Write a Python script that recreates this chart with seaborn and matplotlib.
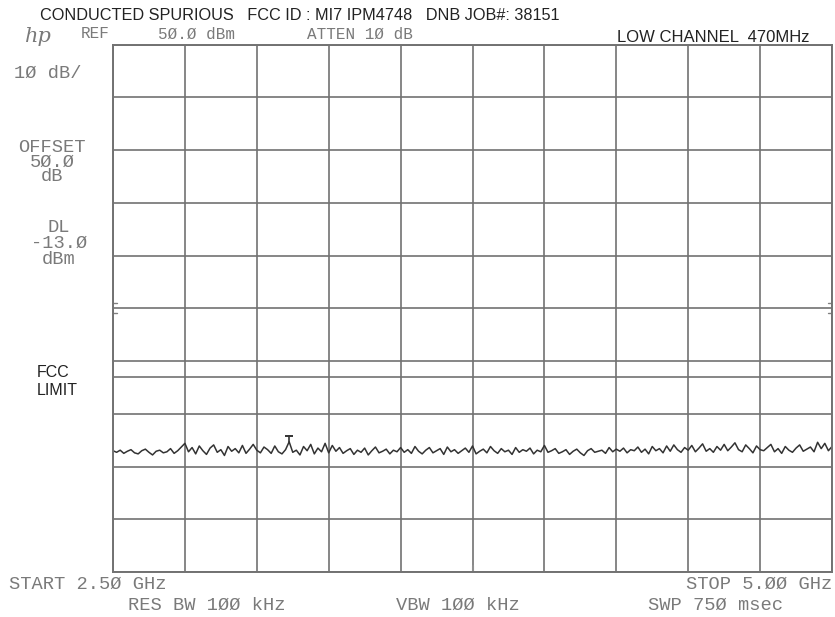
import numpy as np
import pandas as pd
import matplotlib
matplotlib.use("Agg")
import matplotlib.pyplot as plt
import seaborn as sns

# ---- data ----
start_ghz = 2.50
stop_ghz = 5.00
ref_level_dbm = 50.0
db_per_div = 10
fcc_limit_dbm = -13.0
marker_idx = 49
marker_top_dbm = -24.3

trace_dbm = [
    -27.0, -27.3, -26.9, -27.5, -27.1, -26.8, -27.4, -27.6, -27.0, -26.7,
    -27.3, -27.8, -27.1, -26.9, -27.4, -27.2, -26.6, -27.5, -27.0, -26.3,
    -25.6, -27.2, -26.4, -27.6, -26.1, -27.0, -27.7, -26.5, -25.9, -27.3,
    -26.8, -27.9, -26.2, -27.1, -26.6, -27.4, -26.0, -27.5, -26.7, -25.8,
    -26.9, -27.4, -26.3, -26.8, -27.5, -26.1, -27.2, -27.6, -26.8, -25.3,
    -27.3, -26.9, -27.8, -26.2, -27.0, -25.8, -27.6, -26.5, -27.2, -25.6,
    -27.4, -26.0, -27.1, -26.4, -27.5, -27.0, -26.6, -27.7, -26.9, -27.3,
    -26.5, -27.8, -27.0, -26.3, -27.4, -27.1, -26.7, -27.6, -26.9, -27.2,
    -26.4, -27.3, -26.8, -27.5, -26.2, -27.1, -27.6, -26.9, -26.4, -27.4,
    -27.0, -26.6, -27.7, -26.3, -27.2, -26.8, -27.5, -27.0, -26.5, -27.3,
    -26.1, -27.6, -27.1, -26.7, -27.4, -26.2, -27.0, -27.5, -26.6, -27.2,
    -26.9, -27.7, -26.4, -27.3, -26.8, -27.1, -26.5, -27.6, -26.9, -27.2,
    -26.0, -27.3, -27.0, -26.6, -27.5, -27.2, -26.8, -27.7, -27.1, -26.7,
    -27.4, -27.9, -27.0, -26.6, -27.3, -27.1, -26.9, -27.5, -26.4, -27.2,
    -26.7, -27.1, -26.5, -27.4, -26.8, -27.0, -26.3, -27.3, -26.7, -27.6,
    -26.2, -27.0, -26.6, -27.4, -26.1, -27.1, -25.9, -26.8, -27.3, -26.4,
    -26.9, -26.0, -27.2, -26.5, -25.7, -27.1, -26.6, -27.3, -26.2, -26.9,
    -25.8, -27.0, -26.3, -25.5, -26.8, -27.2, -25.9, -26.6, -27.4, -26.1,
    -26.8, -27.0, -26.4, -25.8, -27.2, -26.6, -27.5, -26.2, -26.9, -27.3,
    -26.5, -25.9, -27.1, -26.7, -26.3, -27.2, -25.4, -26.6, -25.6, -27.0,
    -26.2,
]

header_title = "CONDUCTED SPURIOUS   FCC ID : MI7 IPM4748   DNB JOB#: 38151"
channel_label = "LOW CHANNEL  470MHz"
ref_label = "REF"
ref_value_label = "5\u00d8.\u00d8 dBm"
atten_label = "ATTEN 1\u00d8 dB"
scale_label = "1\u00d8 dB/"
offset_labels = ["OFFSET", "5\u00d8.\u00d8", "dB"]
dl_labels = ["DL", "-13.\u00d8", "dBm"]
limit_labels = ["FCC", "LIMIT"]
start_label = "START 2.5\u00d8 GHz"
stop_label = "STOP 5.\u00d8\u00d8 GHz"
rbw_label = "RES BW 1\u00d8\u00d8 kHz"
vbw_label = "VBW 1\u00d8\u00d8 kHz"
swp_label = "SWP 75\u00d8 msec"

# ---- figure ----
sns.set_style("white")
plt.rcParams["font.family"] = ["Liberation Sans", "DejaVu Sans"]

W, H = 835, 617
fig = plt.figure(figsize=(W / 100, H / 100), dpi=100)
L, R, T, B = 113, 832, 44.7, 572
ax = fig.add_axes([L / W, 1 - B / H, (R - L) / W, (B - T) / H])

freqs = np.linspace(start_ghz, stop_ghz, len(trace_dbm))
df = pd.DataFrame({"freq": freqs, "level": trace_dbm})

bottom_dbm = ref_level_dbm - 10 * db_per_div
ax.set_xlim(start_ghz, stop_ghz)
ax.set_ylim(bottom_dbm, ref_level_dbm)

grid_col = "#727272"
ax.set_xticks(np.linspace(start_ghz, stop_ghz, 11))
ax.set_yticks(np.arange(bottom_dbm, ref_level_dbm + 1, db_per_div))
ax.grid(True, color=grid_col, lw=1.2)
ax.tick_params(length=0, labelbottom=False, labelleft=False)
for s in ax.spines.values():
    s.set_color(grid_col)
    s.set_linewidth(1.4)

ax.axhline(fcc_limit_dbm, color=grid_col, lw=1.2)

sns.lineplot(data=df, x="freq", y="level", ax=ax, color="#333333", lw=1.1)
ax.set_xlabel("")
ax.set_ylabel("")

# peak marker
mx = freqs[marker_idx]
my = trace_dbm[marker_idx]
ax.plot([mx, mx], [my, marker_top_dbm], color="#333333", lw=1.2)
ax.plot([mx], [marker_top_dbm], marker="_", ms=6, mew=1.4, color="#333333")

# center-frequency tick at bottom
cx = (start_ghz + stop_ghz) / 2
ax.plot([cx, cx], [bottom_dbm, bottom_dbm + 1.2], color="#909090", lw=1.5)

# small level indicators at edges
span = stop_ghz - start_ghz
for lv in (1.0, -0.9):
    ax.plot([start_ghz, start_ghz + span * 0.006], [lv, lv], color="#808080", lw=1.0)
    ax.plot([stop_ghz - span * 0.006, stop_ghz], [lv, lv], color="#808080", lw=1.0)

# ---- texts ----
def px(x, y):
    return x / W, 1 - y / H

mono = dict(family="Liberation Mono", color="#7a7a7a", fontsize=13.5, va="center")
sans = dict(family="Liberation Sans", color="#222222", va="center")
mono_top = dict(mono, fontsize=11.5)

fig.text(*px(40, 15.5), header_title, ha="left", fontsize=11.7, **sans)
fig.text(*px(617, 38), channel_label, ha="left", fontsize=12, **sans)
fig.text(*px(38, 37), "hp", ha="center", fontsize=15, style="italic",
         family="DejaVu Serif", color="#7a7a7a", va="center")
fig.text(*px(95, 34), ref_label, ha="center", **mono_top)
fig.text(*px(196, 34), ref_value_label, ha="center", **mono_top)
fig.text(*px(360, 34), atten_label, ha="center", **mono_top)

fig.text(*px(48, 73), scale_label, ha="center", **mono)
fig.text(*px(52, 162), "\n".join(offset_labels), ha="center",
         multialignment="center", linespacing=0.84, **mono)
fig.text(*px(59, 243.5), "\n".join(dl_labels), ha="center",
         multialignment="center", linespacing=0.93, **mono)
fig.text(*px(37, 381.5), "\n".join(limit_labels), ha="left",
         multialignment="left", linespacing=1.28, fontsize=11.5, **sans)

fig.text(*px(88, 584), start_label, ha="center", **mono)
fig.text(*px(832, 584), stop_label, ha="right", **mono)
fig.text(*px(207, 605), rbw_label, ha="center", **mono)
fig.text(*px(458, 605), vbw_label, ha="center", **mono)
fig.text(*px(716, 605), swp_label, ha="center", **mono)

fig.savefig("out.png", dpi=100)
